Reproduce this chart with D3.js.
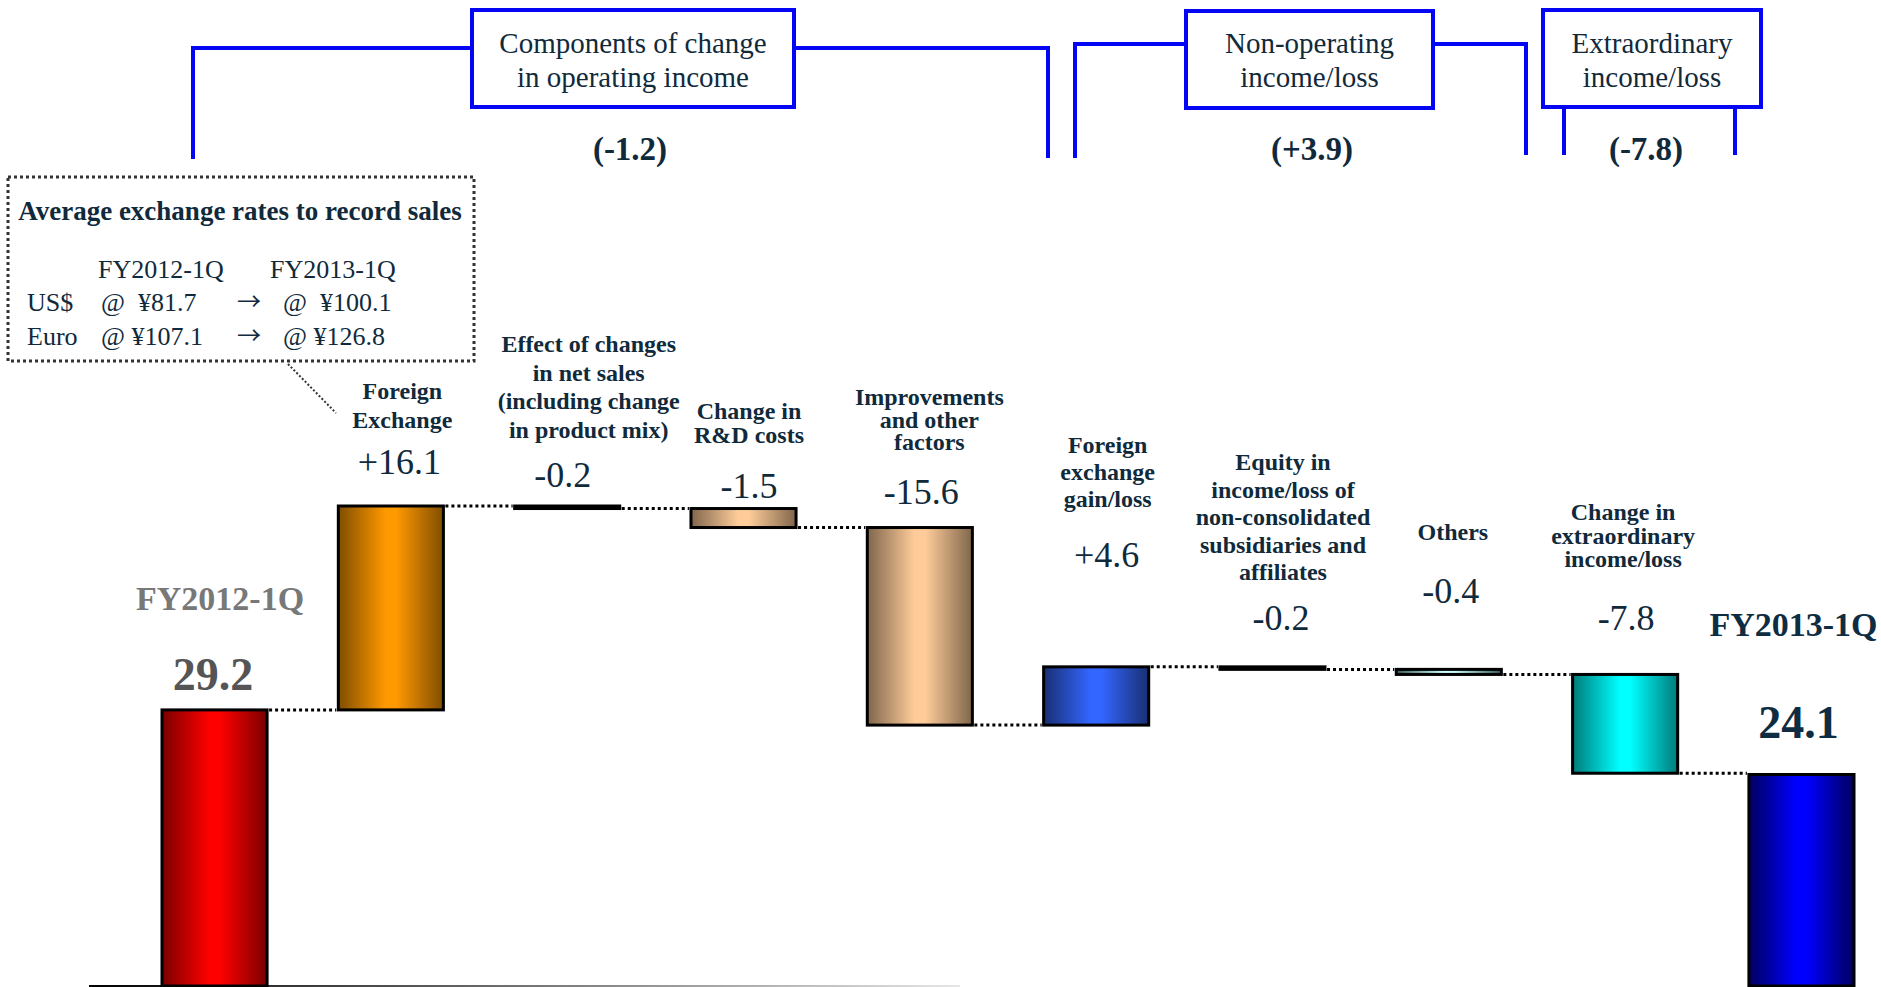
<!DOCTYPE html>
<html>
<head>
<meta charset="utf-8">
<title>Operating income bridge FY2012-1Q to FY2013-1Q</title>
<script src="https://cdn.jsdelivr.net/npm/d3@7"></script>
<style>
  body { margin: 0; background: #fff; }
  svg { display: block; font-family: "Times New Roman", "Liberation Serif", serif; }
  .lbl { font-weight: bold; font-size: 24px; fill: #102a3c; text-anchor: middle; }
  .val { font-size: 36px; fill: #102a3c; text-anchor: middle; }
  .grp { font-size: 29px; fill: #102a3c; text-anchor: middle; }
  .grpval { font-size: 33px; font-weight: bold; fill: #102a3c; text-anchor: middle; }
  .rate { font-size: 26px; fill: #102a3c; white-space: pre; }
  .arrow { font-family: "Noto Sans CJK JP", "DejaVu Sans", sans-serif; font-size: 24px; fill: #102a3c; }
  .bracket { fill: none; stroke: #0505f5; stroke-width: 4; }
  .conn { stroke: #000; stroke-width: 3; stroke-dasharray: 3 3; }
</style>
</head>
<body>
<script>
// ---- data ----
var categories = ["FY2012-1Q", "Foreign Exchange", "Effect of changes in net sales",
                  "Change in R&D costs", "Improvements and other factors",
                  "Foreign exchange gain/loss", "Equity in income/loss of affiliates",
                  "Others", "Change in extraordinary income/loss", "FY2013-1Q"];
var values = [29.2, 16.1, -0.2, -1.5, -15.6, 4.6, -0.2, -0.4, -7.8, 24.1];
var isTotal = [true, false, false, false, false, false, false, false, false, true];
var valueLabels = ["29.2", "+16.1", "-0.2", "-1.5", "-15.6", "+4.6", "-0.2", "-0.4", "-7.8", "24.1"];
var labelLines = [
  ["FY2012-1Q"],
  ["Foreign", "Exchange"],
  ["Effect of changes", "in net sales", "(including change", "in product mix)"],
  ["Change in", "R&D costs"],
  ["Improvements", "and other", "factors"],
  ["Foreign", "exchange", "gain/loss"],
  ["Equity in", "income/loss of", "non-consolidated", "subsidiaries and", "affiliates"],
  ["Others"],
  ["Change in", "extraordinary", "income/loss"],
  ["FY2013-1Q"]
];
var groupNames = [["Components of change", "in operating income"],
                  ["Non-operating", "income/loss"],
                  ["Extraordinary", "income/loss"]];
var groupTotals = ["(-1.2)", "(+3.9)", "(-7.8)"];
var rateTitle = "Average exchange rates to record sales";
var ratePeriods = ["FY2012-1Q", "FY2013-1Q"];
var currencies = ["US$", "Euro"];
var ratesBefore = ["@  ¥81.7", "@ ¥107.1"];
var ratesAfter = ["@  ¥100.1", "@ ¥126.8"];

// ---- styles / layout ----
var barStyle = [
  ["#7a0000", "#ff0000"], ["#7f4d00", "#ff9900"], null, ["#7f664c", "#ffcc99"],
  ["#7f664c", "#ffcc99"], ["#192f73", "#3366ff"], null, ["#3c5c5c", "#c8ffff"],
  ["#007a7a", "#00ffff"], ["#00005e", "#0000ff"]
];
// per bar: name offset from bar centre, first baseline, line step, value offset, value baseline
var labelLayout = [
  {dx: 5.5, y: 610, step: 0, vdx: -1.5, vy: 690},
  {dx: 11.5, y: 399, step: 29, vdx: 8.5, vy: 474},
  {dx: 21.5, y: 352, step: 28.5, vdx: -4.5, vy: 487},
  {dx: 5.5, y: 419, step: 24, vdx: 5.5, vy: 498},
  {dx: 9.5, y: 405, step: 22.5, vdx: 1.5, vy: 504},
  {dx: 11.5, y: 453, step: 27, vdx: 10.5, vy: 567},
  {dx: 10.5, y: 470, step: 27.5, vdx: 8.5, vy: 630},
  {dx: 4, y: 540, step: 0, vdx: 2, vy: 603},
  {dx: -2, y: 520, step: 23.5, vdx: 1, vy: 630},
  {dx: -8, y: 636, step: 0, vdx: -3, vy: 738}
];

var W = 1881, H = 987;
var svg = d3.select("body").append("svg").attr("width", W).attr("height", H);
var defs = svg.append("defs");

var x = d3.scaleBand().domain(categories).range([162, 1854]).paddingInner(0.404).paddingOuter(0);
var y = d3.scaleLinear().domain([7.4, 45.3]).range([986, 506]);
var bw = x.bandwidth();

// running totals
var bars = [];
var run = 0;
values.forEach(function(v, i) {
  var lo, hi;
  if (isTotal[i]) { lo = y.domain()[0]; hi = v; run = v; }
  else { lo = Math.min(run, run + v); hi = Math.max(run, run + v); run = run + v; }
  bars.push({cat: categories[i], lo: lo, hi: hi, end: run, i: i});
});

// gradients
barStyle.forEach(function(s, i) {
  if (!s) return;
  var g = defs.append("linearGradient").attr("id", "g" + i)
    .attr("x1", 0).attr("x2", 1).attr("y1", 0).attr("y2", 0);
  [[0, s[0]], [0.45, s[1]], [0.55, s[1]], [1, s[0]]].forEach(function(st) {
    g.append("stop").attr("offset", st[0]).attr("stop-color", st[1]);
  });
});
var base = defs.append("linearGradient").attr("id", "baseGrad")
  .attr("gradientUnits", "userSpaceOnUse").attr("x1", 89).attr("x2", 960).attr("y1", 0).attr("y2", 0);
base.append("stop").attr("offset", 0).attr("stop-color", "#000");
base.append("stop").attr("offset", 1).attr("stop-color", "#e6e6e6");

// baseline
svg.append("line").attr("x1", 89).attr("x2", 960).attr("y1", 986).attr("y2", 986)
  .attr("stroke", "url(#baseGrad)").attr("stroke-width", 2);

// connectors
svg.selectAll(".conn").data(bars.slice(0, -1)).enter().append("line")
  .attr("class", "conn")
  .attr("x1", function(d) { return x(d.cat) + bw + 2; })
  .attr("x2", function(d) { return x(categories[d.i + 1]) - 2; })
  .attr("y1", function(d) { return y(d.end); })
  .attr("y2", function(d) { return y(d.end); });

// bars
svg.selectAll(".bar").data(bars).enter().append("rect")
  .attr("class", "bar")
  .attr("x", function(d) { return x(d.cat); })
  .attr("width", bw)
  .attr("y", function(d) { return y(d.hi); })
  .attr("height", function(d) { return Math.max(1, y(d.lo) - y(d.hi)); })
  .attr("fill", function(d) { return barStyle[d.i] ? "url(#g" + d.i + ")" : "#000"; })
  .attr("stroke", "#000").attr("stroke-width", 3);

// category labels
bars.forEach(function(d) {
  var L = labelLayout[d.i], cx = x(d.cat) + bw / 2;
  if (isTotal[d.i]) {
    svg.append("text").attr("x", cx + L.dx).attr("y", L.y)
      .attr("text-anchor", "middle").attr("font-weight", "bold").attr("font-size", 34)
      .attr("fill", d.i === 0 ? "#787878" : "#0f2d42").text(labelLines[d.i][0]);
    svg.append("text").attr("x", cx + L.vdx).attr("y", L.vy)
      .attr("text-anchor", "middle").attr("font-weight", "bold").attr("font-size", 46)
      .attr("fill", d.i === 0 ? "#555" : "#0f2d42").text(valueLabels[d.i]);
  } else {
    var t = svg.append("text").attr("class", "lbl");
    labelLines[d.i].forEach(function(line, k) {
      t.append("tspan").attr("x", cx + L.dx).attr("y", L.y + k * L.step).text(line);
    });
    svg.append("text").attr("class", "val").attr("x", cx + L.vdx).attr("y", L.vy).text(valueLabels[d.i]);
  }
});

// group headers with brackets
var boxes = [
  {x0: 472, x1: 794, y0: 10, y1: 107},
  {x0: 1186, x1: 1433, y0: 11, y1: 108},
  {x0: 1543, x1: 1761, y0: 10, y1: 107}
];
svg.append("path").attr("class", "bracket").attr("d", "M193,159V48H472M794,48H1048V158");
svg.append("path").attr("class", "bracket").attr("d", "M1075,158V44H1186M1433,44H1526V155");
svg.append("path").attr("class", "bracket").attr("d", "M1564,107V155M1735,107V155");
boxes.forEach(function(b, i) {
  svg.append("rect").attr("class", "bracket").attr("x", b.x0).attr("y", b.y0)
    .attr("width", b.x1 - b.x0).attr("height", b.y1 - b.y0);
  var cx = (b.x0 + b.x1) / 2;
  groupNames[i].forEach(function(line, k) {
    svg.append("text").attr("class", "grp").attr("x", cx).attr("y", 53 + k * 34).text(line);
  });
});
[630, 1312, 1646].forEach(function(cx, i) {
  svg.append("text").attr("class", "grpval").attr("x", cx).attr("y", 160).text(groupTotals[i]);
});

// exchange rate note
svg.append("rect").attr("x", 8).attr("y", 177).attr("width", 466).attr("height", 184)
  .attr("fill", "#fff").attr("stroke", "#333").attr("stroke-width", 3).attr("stroke-dasharray", "3 3");
svg.append("line").attr("x1", 288).attr("y1", 364).attr("x2", 336).attr("y2", 413)
  .attr("stroke", "#333").attr("stroke-width", 2).attr("stroke-dasharray", "2 2");
svg.append("text").attr("x", 240).attr("y", 220).attr("text-anchor", "middle")
  .attr("font-weight", "bold").attr("font-size", 27).attr("fill", "#102a3c").text(rateTitle);
svg.append("text").attr("class", "rate").attr("x", 98).attr("y", 278).text(ratePeriods[0]);
svg.append("text").attr("class", "rate").attr("x", 270).attr("y", 278).text(ratePeriods[1]);
currencies.forEach(function(c, i) {
  var yy = 311 + i * 34;
  svg.append("text").attr("class", "rate").attr("x", 27).attr("y", yy).text(c);
  svg.append("text").attr("class", "rate").attr("x", 101).attr("y", yy).text(ratesBefore[i]);
  svg.append("text").attr("class", "arrow").attr("x", 237).attr("y", yy - 1).text("\u2192");
  svg.append("text").attr("class", "rate").attr("x", 283).attr("y", yy).text(ratesAfter[i]);
});
</script>
</body>
</html>
